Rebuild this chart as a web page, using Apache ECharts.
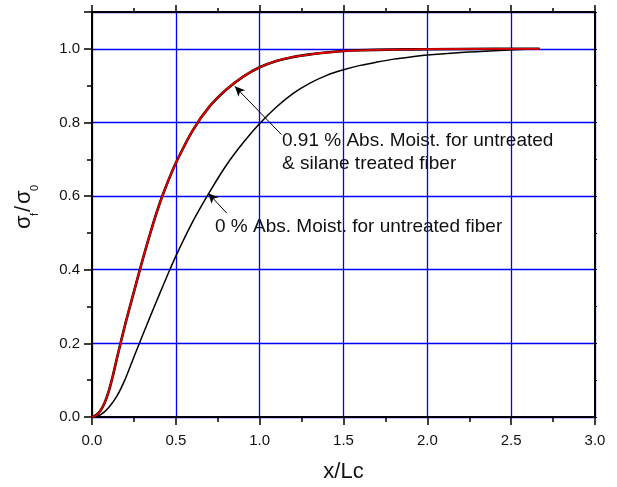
<!DOCTYPE html>
<html>
<head>
<meta charset="utf-8">
<script src="https://cdn.jsdelivr.net/npm/echarts@6/dist/echarts.min.js"></script>
<style>
  html, body { margin: 0; padding: 0; background: #fff; }
  #chart { width: 617px; height: 487px; }
</style>
</head>
<body>
<div id="chart"></div>
<script>
// Tick labels
const xTickLabels = ['0.0', '0.5', '1.0', '1.5', '2.0', '2.5', '3.0'];
const yTickLabels = ['0.0', '0.2', '0.4', '0.6', '0.8', '1.0'];

// Normalised fibre stress sigma_f/sigma_0 against x/Lc
// 0 % absorbed moisture, untreated fibre
const xDry = [0, 0.05, 0.1, 0.15, 0.2, 0.25, 0.3, 0.35, 0.4, 0.45, 0.5, 0.6, 0.7, 0.8, 0.9, 1.0, 1.1, 1.2, 1.3, 1.4, 1.5, 1.6, 1.7, 1.8, 1.9, 2.0, 2.2, 2.4, 2.67];
const yDry = [0, 0.006, 0.026, 0.058, 0.105, 0.163, 0.22, 0.276, 0.331, 0.385, 0.437, 0.53, 0.61, 0.683, 0.744, 0.797, 0.842, 0.879, 0.907, 0.928, 0.943, 0.955, 0.964, 0.972, 0.978, 0.983, 0.99, 0.995, 1.0];

// 0.91 % absorbed moisture, untreated fibre
const xWetUntreated = [0, 0.025, 0.05, 0.075, 0.1, 0.125, 0.15, 0.2, 0.25, 0.3, 0.35, 0.4, 0.45, 0.5, 0.6, 0.7, 0.8, 0.9, 1.0, 1.1, 1.2, 1.3, 1.4, 1.5, 1.6, 1.8, 2.0, 2.4, 2.67];
const yWetUntreated = [0, 0.005, 0.017, 0.038, 0.07, 0.113, 0.162, 0.255, 0.34, 0.424, 0.503, 0.575, 0.636, 0.69, 0.778, 0.843, 0.889, 0.924, 0.95, 0.967, 0.978, 0.985, 0.99, 0.994, 0.996, 0.998, 0.999, 1.0, 1.0];

// 0.91 % absorbed moisture, silane treated fibre
const xWetSilane = [0, 0.025, 0.05, 0.075, 0.1, 0.125, 0.15, 0.2, 0.25, 0.3, 0.35, 0.4, 0.45, 0.5, 0.6, 0.7, 0.8, 0.9, 1.0, 1.1, 1.2, 1.3, 1.4, 1.5, 1.6, 1.8, 2.0, 2.4, 2.67];
const yWetSilane = [0, 0.005, 0.017, 0.038, 0.07, 0.113, 0.162, 0.255, 0.34, 0.424, 0.503, 0.575, 0.636, 0.69, 0.778, 0.843, 0.889, 0.924, 0.95, 0.967, 0.978, 0.985, 0.99, 0.994, 0.996, 0.998, 0.999, 1.0, 1.0];

// Annotation arrows: [tail, head] in data coordinates
const arrowWet = [[1.13, 0.767], [0.852, 0.898]];
const arrowDry = [[0.803, 0.554], [0.693, 0.608]];

const FONT = '"Liberation Sans", Arial, sans-serif';
const INK = '#111';
const GRID_BLUE = '#0000ff';

const zip = (xs, ys) => xs.map((x, i) => [x, ys[i]]);

const frameLine = { show: true, onZero: false, lineStyle: { color: '#000', width: 2 } };

function arrowLine(a) {
  return [
    { coord: a[0], symbol: 'none' },
    { coord: a[1], symbol: 'arrow', symbolSize: [7, 10] }
  ];
}

const chart = echarts.init(document.getElementById('chart'), null, { renderer: 'canvas' });

const option = {
  animation: false,
  backgroundColor: '#fff',
  grid: { left: 92, right: 22, top: 12, bottom: 70, containLabel: false, outerBoundsMode: 'none' },
  xAxis: [
    {
      type: 'value', position: 'bottom', min: 0, max: 3, interval: 0.5,
      axisLine: frameLine,
      axisTick: { show: true, inside: false, length: 8, lineStyle: { color: '#000', width: 1.5 } },
      minorTick: { show: true, splitNumber: 2, length: 5, lineStyle: { color: '#000', width: 1.5 } },
      axisLabel: {
        margin: 16, fontSize: 15, fontFamily: FONT, color: INK,
        formatter: v => xTickLabels[Math.round(v / 0.5)] ?? ''
      },
      splitLine: { show: true, lineStyle: { color: GRID_BLUE, width: 1.3, opacity: 1 } },
      name: 'x/Lc', nameLocation: 'middle', nameGap: 44,
      nameTextStyle: { fontSize: 22, fontFamily: FONT, color: INK }
    },
    {
      type: 'value', position: 'top', min: 0, max: 3, interval: 0.5,
      axisLine: frameLine,
      axisTick: { show: true, inside: false, length: 7, lineStyle: { color: '#000', width: 1.5 } },
      minorTick: { show: true, splitNumber: 2, length: 4, lineStyle: { color: '#000', width: 1.5 } },
      axisLabel: { show: false },
      splitLine: { show: false }
    }
  ],
  yAxis: [
    {
      type: 'value', position: 'left', min: 0, max: 1.1, interval: 0.2,
      axisLine: frameLine,
      axisTick: { show: true, inside: false, length: 8, lineStyle: { color: '#000', width: 1.5 } },
      minorTick: { show: true, splitNumber: 2, length: 5, lineStyle: { color: '#000', width: 1.5 } },
      axisLabel: {
        margin: 12, fontSize: 15, fontFamily: FONT, color: INK, showMaxLabel: false,
        formatter: v => yTickLabels[Math.round(v / 0.2)] ?? ''
      },
      splitLine: { show: true, lineStyle: { color: GRID_BLUE, width: 1.3, opacity: 1 } }
    },
    {
      type: 'value', position: 'right', min: 0, max: 1.1, interval: 0.2,
      axisLine: frameLine,
      axisTick: { show: true, inside: false, length: 2, lineStyle: { color: '#000', width: 1 } },
      minorTick: { show: true, splitNumber: 2, length: 2, lineStyle: { color: '#000', width: 1 } },
      axisLabel: { show: false },
      splitLine: { show: false }
    }
  ],
  series: [
    {
      name: '0 % Abs. Moist. untreated',
      type: 'line', data: zip(xDry, yDry),
      smooth: 0.3, showSymbol: false, silent: true,
      lineStyle: { color: '#000', width: 1.5 },
      markLine: {
        silent: true, symbol: ['none', 'arrow'],
        lineStyle: { color: '#000', width: 1, type: 'solid' },
        label: { show: false },
        data: [arrowLine(arrowWet), arrowLine(arrowDry)]
      }
    },
    {
      name: '0.91 % Abs. Moist. untreated',
      type: 'line', data: zip(xWetUntreated, yWetUntreated),
      smooth: 0.3, showSymbol: false, silent: true,
      lineStyle: { color: '#000', width: 2.6 }
    },
    {
      name: '0.91 % Abs. Moist. silane treated',
      type: 'line', data: zip(xWetSilane, yWetSilane),
      smooth: 0.3, showSymbol: false, silent: true,
      lineStyle: { color: '#e60000', width: 1.8 }
    }
  ],
  graphic: [
    {
      type: 'text', left: 282, top: 131, silent: true,
      style: { text: '0.91 % Abs. Moist. for untreated', font: '19px ' + FONT, fill: INK }
    },
    {
      type: 'text', left: 282, top: 154, silent: true,
      style: { text: '& silane treated fiber', font: '19px ' + FONT, fill: INK }
    },
    {
      type: 'text', left: 215, top: 217, silent: true,
      style: { text: '0 % Abs. Moist. for untreated fiber', font: '19px ' + FONT, fill: INK }
    },
    {
      // rotated y-axis title: sigma_f / sigma_0
      type: 'group', x: 35, y: 229, rotation: Math.PI / 2, silent: true,
      children: [
        { type: 'text', x: 0, y: 0, style: { text: 'σ', font: '22px ' + FONT, fill: INK, verticalAlign: 'bottom' } },
        { type: 'text', x: 13, y: 5, style: { text: 'f', font: '11px ' + FONT, fill: INK, verticalAlign: 'bottom' } },
        { type: 'text', x: 17, y: 0, style: { text: '/', font: '22px ' + FONT, fill: INK, verticalAlign: 'bottom' } },
        { type: 'text', x: 25, y: 0, style: { text: 'σ', font: '22px ' + FONT, fill: INK, verticalAlign: 'bottom' } },
        { type: 'text', x: 38, y: 5, style: { text: '0', font: '11px ' + FONT, fill: INK, verticalAlign: 'bottom' } }
      ]
    }
  ]
};

chart.setOption(option);
</script>
</body>
</html>
